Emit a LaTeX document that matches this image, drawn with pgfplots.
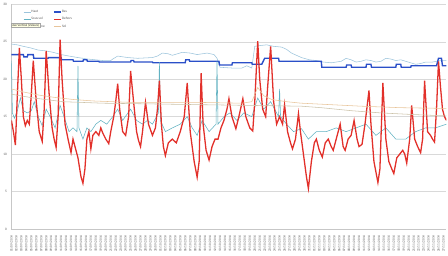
\documentclass[border=0pt]{standalone}
\usepackage{fontspec}
\setmainfont{Carlito}
\usepackage{pgfplots}
\pgfplotsset{compat=1.18}
\definecolor{cred}{HTML}{E2302A}
\definecolor{cblue}{HTML}{2A4FC8}
\definecolor{chaut}{HTML}{9CC4DC}
\definecolor{csous}{HTML}{62B2C2}
\definecolor{csol}{HTML}{E8C49A}
\definecolor{cmoy}{HTML}{CBC2A8}
\definecolor{cgrid}{HTML}{D9D9D9}
\definecolor{ctxt}{HTML}{595959}
\newcommand{\tdig}[1]{\ifnum#1<10 0\fi#1}
\begin{document}
\begin{tikzpicture}
\begin{axis}[
  scale only axis, width=438bp, height=226bp,
  xmin=8, xmax=446, ymin=0, ymax=30,
  ytick={0,5,...,30},
  xtick={8,13,...,443},
  axis x line=bottom, axis y line=left,
  axis line style={draw=cgrid!80!gray, -},
  ymajorgrids, grid style={draw=cgrid, line width=0.5bp},
  tick style={draw=none},
  /pgf/number format/assume math mode=true,
  yticklabel style={font=\fontsize{3.5}{4}\selectfont, text=ctxt, xshift=1bp},
  xticklabel style={font=\fontsize{3.4}{4}\selectfont, text=ctxt, rotate=90, anchor=east, xshift=-1bp},
  xticklabel={\pgfmathtruncatemacro{\dd}{\ticknum+1}\ifnum\dd<31 \tdig{\dd}/09/2014\else\ifnum\dd<62 \pgfmathtruncatemacro{\ee}{\dd-30}\tdig{\ee}/10/2014\else\pgfmathtruncatemacro{\ee}{\dd-61}\tdig{\ee}/11/2014\fi\fi},
  legend columns=2,
  legend cell align=left,
  legend image code/.code={\draw[#1] (0bp,0bp) -- (7bp,0bp);},
  legend style={at={(0.027,0.978)}, anchor=north west, draw=none, fill=none,
    inner sep=0pt, font=\fontsize{3.5}{4}\selectfont, text=ctxt,
    nodes={inner sep=0.5bp}, row sep=2.6bp,
    /tikz/every even column/.append style={column sep=8bp}},
]
% Haut
\addplot[chaut, line width=0.55bp] coordinates {
(8,24.7)(14,24.6)(20,24.4)(27,24.2)(35,23.9)(42,23.8)(50,23.6)(58,23.3)(66,23.1)(75,22.9)(85,22.7)(100,22.5)(108,22.5)(110,22.7)(115,23.1)(120,23.0)(125,22.9)(135,22.8)(150,22.9)(155,23.1)(160,23.5)(166,23.4)(170,23.2)(175,23.4)(180,23.6)(188,23.5)(195,23.3)(200,23.4)(205,23.5)(212,23.3)(215,22.8)(218,21.6)(230,21.5)(240,21.5)(245,21.8)(250,21.5)(253,24.4)(258,24.5)(265,24.6)(272,24.4)(280,24.3)(285,24.0)(290,23.5)(295,23.2)(300,22.9)(308,22.6)(315,22.5)(322,22.3)(330,22.2)(335,22.3)(340,22.4)(345,22.8)(350,22.6)(355,22.3)(360,22.4)(365,22.6)(370,22.5)(375,22.3)(380,22.4)(385,22.8)(390,22.7)(395,22.5)(400,22.6)(405,22.4)(410,22.2)(415,22.0)(420,22.1)(425,22.3)(432,22.3)(440,22.5)(446,22.5)};
\addlegendentry{Haut}
% Bas
\addplot[cblue, line width=1.4bp] coordinates {
(8,23.3)(20,23.3)(20.5,23.0)(24,23.0)(24.5,23.3)(30,23.3)(30.5,22.8)(45,22.8)(45.5,22.9)(58,22.9)(58.5,22.6)(70,22.6)(70.5,22.4)(80,22.4)(80.5,22.6)(84,22.6)(84.5,22.4)(96,22.4)(96.5,22.3)(128,22.3)(128.5,22.5)(131,22.5)(131.5,22.3)(150,22.3)(150.5,22.2)(183,22.2)(183.5,22.6)(187,22.6)(187.5,22.4)(217,22.4)(217.5,21.9)(230,21.9)(230.5,22.2)(250,22.2)(250.5,22.0)(260,22.0)(263,22.8)(277,22.8)(277.5,22.4)(320,22.4)(320.5,21.6)(345,21.6)(345.5,21.9)(350,21.9)(350.5,21.6)(365,21.6)(365.5,22.0)(370,22.0)(370.5,21.6)(395,21.6)(395.5,22.0)(400,22.0)(400.5,21.6)(410,21.6)(410.5,21.8)(436,21.8)(438,22.8)(441,22.8)(442,21.8)(446,21.8)};
\addlegendentry{Bas}
% Sous sol
\addplot[csous, line width=0.55bp] coordinates {
(8,22.5)(9,15.5)(11,14.8)(14,15.8)(17,17.5)(20,15.8)(24,15.5)(28,15.8)(31,17)(35,15)(39,13.8)(43,16)(47,15)(52,13.5)(57,16.5)(61,15)(66,13)(70,13.5)(74,13)(75,21.8)(76,13.5)(80,12)(84,13.5)(88,13)(93,14)(98,14.5)(104,14)(110,15)(115,16)(120,14.5)(128,16)(134,14.5)(140,14)(145,14.5)(150,14)(156,15.5)(157,22.3)(158,14.5)(163,13)(170,13.5)(178,14)(185,15)(190,13.5)(195,12.5)(200,14.5)(207,13)(214,14)(215,22.4)(216,14)(222,15)(228,15.5)(235,14.5)(242,15.5)(250,15)(256,17.5)(262,16)(269,17)(275,15.5)(277,15)(278,18.7)(279,15)(285,14)(292,13)(300,13.4)(307,12)(315,13)(325,13)(335,13.5)(345,13)(355,13.5)(365,14)(375,12.5)(385,13.5)(395,12)(405,12)(415,13)(425,13.5)(435,13.5)(446,14)};
\addlegendentry{Sous sol}
% Dehors
\addplot[cred, line width=1.3bp] coordinates {
(8,14.5)(10,13)(12,11.2)(14,18)(16,24.2)(18,20)(20,15)(22,13.8)(24,14.5)(26,14)(28,18)(30,22.5)(33,17)(36,13)(39,11.7)(41,16)(43,23.8)(46,18)(49,13.5)(51,12)(53,10.9)(55,15)(57,25.3)(59,20)(62,14)(65,12)(68,10.2)(70,12)(72,11)(75,9.5)(78,7)(80,6.1)(82,8)(84,12)(86,13)(88,10.7)(90,12.5)(93,13)(96,12.5)(98,13.5)(100,12.8)(103,12)(106,11.4)(108,13)(111,15)(113,17)(115,19.4)(117,16)(120,13)(123,12.5)(126,15)(128,21.1)(131,17)(134,13)(136,11.8)(138,11)(140,13)(143,16.9)(146,14)(150,12.5)(153,13.5)(155,16)(157,19.8)(159,14)(161,11)(163,9.8)(166,11.5)(170,12)(174,11.5)(178,13)(182,15)(185,19.5)(188,13)(192,9)(195,6.9)(197,9)(199,20.8)(201,14)(204,10.5)(207,9.2)(210,11)(213,12)(216,12)(219,13.5)(222,14.5)(225,16)(227,17.4)(230,15)(234,13.4)(237,15)(241,17.4)(244,15)(248,13.5)(251,13.1)(253,17)(256,25.1)(258,20)(261,16)(264,15)(266,19)(269,24.4)(272,17)(275,14)(278,15)(281,14)(283,16.6)(286,13)(289,11.5)(291,10.7)(294,12)(297,15.4)(299,13)(302,10)(305,7)(307,5.4)(310,9)(313,11.5)(315,12)(318,10.5)(321,9.6)(324,11.5)(327,12)(330,11)(332,10.5)(335,12)(339,14)(342,11)(344,10.5)(347,12)(350,12.5)(353,14.5)(356,12)(358,11)(361,11.3)(364,14)(368,18.5)(370,14)(373,9)(377,6.2)(379,8)(382,19.5)(385,12)(388,9)(391,8)(393,7.4)(396,9.5)(399,10)(402,10.5)(404,10)(406,8.8)(409,12)(411,16.5)(414,12)(417,11)(420,10.2)(422,12)(424,19.8)(427,13)(430,12.5)(432,12)(434,11.6)(436,16)(438,22.4)(440,19)(442,16)(444,15)(446,14.5)};
\addlegendentry{Dehors}
% Moyenne
\addplot[cmoy, line width=0.55bp] coordinates {
(8,18.0)(30,17.5)(60,17.0)(100,16.8)(150,16.7)(200,16.6)(250,16.5)(300,16.4)(320,16.2)(350,15.8)(380,15.5)(410,15.3)(446,15.1)};
\addlegendentry{Moyenne}
% Sol
\addplot[csol, line width=0.55bp] coordinates {
(8,18.7)(20,18.3)(35,17.9)(50,17.6)(70,17.3)(90,17.1)(110,17.0)(130,16.9)(150,16.9)(200,16.9)(240,16.8)(250,17.0)(256,18.9)(262,17.8)(270,17.3)(285,17.0)(300,16.8)(330,16.6)(360,16.4)(400,16.2)(446,16.1)};
\addlegendentry{Sol}
\coordinate (tt) at (rel axis cs:0,0.916);
\end{axis}
\node[anchor=north west, fill={rgb,255:red,255;green,255;blue,225}, draw=gray!70, line width=0.3bp, inner sep=0.7bp, font=\fontsize{3.2}{3.6}\selectfont, text=black!80] at (tt) {Axe Vertical (Valeurs)};
\end{tikzpicture}
\end{document}
